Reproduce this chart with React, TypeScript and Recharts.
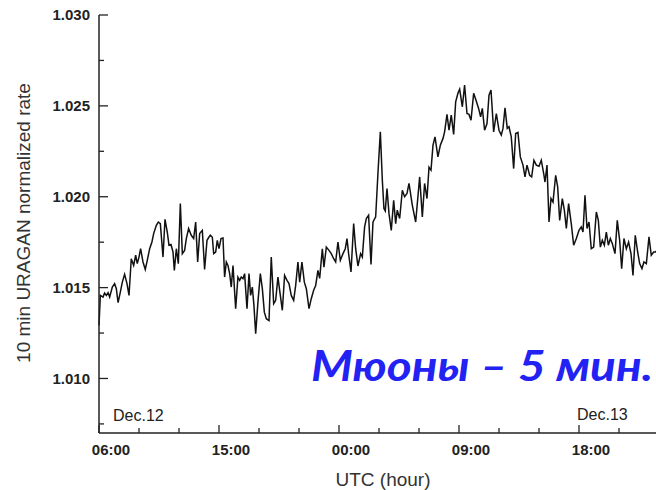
import React from 'react';
import { LineChart, Line, XAxis, YAxis } from 'recharts';

// hours counted from 00:00 Dec.12 (so 24 = 00:00 Dec.13)
const hours = [
  6.0, 6.1, 6.3, 6.42, 6.55, 6.68, 6.8, 7.0, 7.17, 7.3,
  7.43, 7.6, 7.75, 7.92, 8.1, 8.25, 8.42, 8.6, 8.75, 8.87,
  9.0, 9.12, 9.3, 9.47, 9.62, 9.8, 9.97, 10.1, 10.3, 10.45,
  10.6, 10.8, 10.95, 11.12, 11.25, 11.4, 11.55, 11.65, 11.8, 11.95,
  12.1, 12.25, 12.42, 12.55, 12.72, 12.92, 13.1, 13.25, 13.4, 13.55,
  13.75, 13.92, 14.1, 14.24, 14.35, 14.5, 14.6, 14.75, 14.87, 15.0,
  15.15, 15.3, 15.42, 15.55, 15.67, 15.8, 15.92, 16.05, 16.25, 16.42,
  16.55, 16.67, 16.8, 16.92, 17.1, 17.25, 17.37, 17.5, 17.62, 17.75,
  17.92, 18.1, 18.25, 18.4, 18.55, 18.75, 18.92, 19.1, 19.25, 19.42,
  19.6, 19.75, 19.92, 20.1, 20.25, 20.42, 20.6, 20.75, 20.92, 21.05,
  21.22, 21.4, 21.55, 21.75, 21.92, 22.1, 22.25, 22.42, 22.55, 22.75,
  22.87, 23.05, 23.25, 23.42, 23.6, 23.75, 23.92, 24.1, 24.3, 24.47,
  24.6, 24.72, 24.9, 25.1, 25.25, 25.42, 25.62, 25.75, 25.92, 26.05,
  26.22, 26.4, 26.55, 26.75, 26.92, 27.1, 27.25, 27.37, 27.47, 27.6,
  27.75, 27.92, 28.1, 28.25, 28.37, 28.55, 28.75, 28.92, 29.1, 29.25,
  29.5, 29.75, 30.05, 30.25, 30.42, 30.6, 30.75, 30.9, 31.05, 31.2,
  31.42, 31.6, 31.8, 31.92, 32.1, 32.25, 32.42, 32.6, 32.75, 32.92,
  33.05, 33.25, 33.42, 33.6, 33.75, 33.9, 34.1, 34.27, 34.47, 34.62,
  34.75, 34.92, 35.1, 35.25, 35.4, 35.6, 35.8, 36.0, 36.17, 36.3,
  36.45, 36.62, 36.75, 36.92, 37.1, 37.25, 37.42, 37.6, 37.8, 37.95,
  38.1, 38.3, 38.45, 38.62, 38.8, 39.0, 39.17, 39.35, 39.45, 39.6,
  39.75, 39.9, 40.05, 40.25, 40.4, 40.55, 40.75, 40.9, 41.05, 41.22,
  41.42, 41.6, 41.8, 42.0, 42.17, 42.3, 42.45, 42.6, 42.75, 42.92,
  43.1, 43.3, 43.45, 43.6, 43.75, 43.9, 44.05, 44.2, 44.35, 44.5,
  44.7, 44.87, 45.05, 45.2, 45.37, 45.55, 45.72, 45.9, 46.05, 46.22,
  46.4, 46.55, 46.72, 46.87, 47.05, 47.25, 47.42, 47.6, 47.75, 47.91,
];

const rates = [
  1.01292, 1.01457, 1.01448, 1.0147, 1.01457, 1.01472, 1.01448, 1.01503, 1.01522, 1.01494,
  1.01417, 1.01475, 1.0153, 1.01573, 1.01522, 1.01457, 1.01659, 1.01622, 1.01678, 1.01632,
  1.01668, 1.01714, 1.01641, 1.016, 1.0165, 1.01714, 1.01751, 1.01797, 1.01843, 1.01861,
  1.01852, 1.01668, 1.01876, 1.01806, 1.01733, 1.01737, 1.01696, 1.01595, 1.01714, 1.01632,
  1.01962, 1.01687, 1.01705, 1.0177, 1.01825, 1.01788, 1.0177, 1.01861, 1.01641, 1.01797,
  1.01815, 1.016, 1.0176, 1.01777, 1.01788, 1.01777, 1.01687, 1.01696, 1.0176, 1.01714,
  1.0177, 1.01773, 1.01558, 1.01641, 1.01622, 1.01577, 1.01503, 1.01622, 1.01384, 1.01558,
  1.0154, 1.01558, 1.01549, 1.01577, 1.01384, 1.01577, 1.01457, 1.01503, 1.01402, 1.01246,
  1.0142, 1.01577, 1.01494, 1.01365, 1.01329, 1.01319, 1.01668, 1.01411, 1.0143, 1.01558,
  1.01457, 1.01375, 1.01567, 1.0154, 1.01522, 1.01457, 1.0143, 1.01512, 1.01641, 1.0153,
  1.01641, 1.0153, 1.01494, 1.01384, 1.01439, 1.01485, 1.01512, 1.01595, 1.01551, 1.01714,
  1.01613, 1.01723, 1.01705, 1.01687, 1.01659, 1.01641, 1.01751, 1.0165, 1.01687, 1.01714,
  1.0177, 1.01687, 1.01586, 1.01852, 1.01714, 1.01619, 1.01687, 1.01668, 1.01834, 1.0188,
  1.01898, 1.01628, 1.01861, 1.01889, 1.02128, 1.02357, 1.02091, 1.01935, 1.01922, 1.02045,
  1.01907, 1.01815, 1.01981, 1.01852, 1.01926, 1.0188, 1.02036, 1.02, 1.02018, 1.02073,
  1.01953, 1.01861, 1.02109, 1.01889, 1.02073, 1.0199, 1.02162, 1.02146, 1.02284, 1.02329,
  1.02219, 1.02284, 1.02321, 1.02357, 1.02453, 1.02366, 1.02449, 1.02343, 1.02522, 1.02569,
  1.02592, 1.02495, 1.02614, 1.02458, 1.02453, 1.02421, 1.02569, 1.02532, 1.02486, 1.0244,
  1.02486, 1.02366, 1.02403, 1.02559, 1.02587, 1.02357, 1.02458, 1.02366, 1.02339, 1.02376,
  1.02489, 1.02376, 1.02385, 1.02329, 1.02155, 1.02348, 1.02354, 1.02219, 1.02174, 1.02109,
  1.02174, 1.02118, 1.02109, 1.02201, 1.02174, 1.02168, 1.02201, 1.02128, 1.02081, 1.02174,
  1.01861, 1.0199, 1.01971, 1.02118, 1.02054, 1.0187, 1.0199, 1.01926, 1.01825, 1.01962,
  1.01852, 1.01733, 1.0177, 1.01815, 1.01834, 1.01806, 1.02008, 1.01825, 1.01861, 1.01714,
  1.01723, 1.01916, 1.0187, 1.01723, 1.0176, 1.01733, 1.01806, 1.01733, 1.0177, 1.01742,
  1.01687, 1.0187, 1.0176, 1.01604, 1.0177, 1.01714, 1.01751, 1.01687, 1.01567, 1.01788,
  1.01696, 1.01632, 1.01604, 1.01641, 1.01632, 1.01779, 1.01678, 1.01696, 1.01696, 1.01711,
];

const hourTicks = [6, 9, 12, 15, 18, 21, 24, 27, 30, 33, 36, 39, 42, 45, 48];
const hourLabels: Record<number, string> = {
  6: '06:00',
  15: '15:00',
  24: '00:00',
  33: '09:00',
  42: '18:00',
};
const rateTicks = [
  1.0075, 1.01, 1.0125, 1.015, 1.0175, 1.02, 1.0225, 1.025, 1.0275, 1.03,
];
const dayLabels = ['Dec.12', 'Dec.13'];
const yTitle = '10 min URAGAN normalized rate';
const xTitle = 'UTC (hour)';
const banner = 'Мюоны – 5 мин.';

const data = hours.map((hour, i) => ({ hour, rate: rates[i] }));

const INK = '#222';
const TICK_FONT = '"Liberation Sans", Arial, sans-serif';

const isMajorHour = (v: number) => (v - 6) % 9 === 0;
const isMajorRate = (v: number) => Math.abs(v * 200 - Math.round(v * 200)) < 1e-6;

// ticks point into the plot on every side
const BottomTick = ({ x, y, payload }: any) => {
  const major = isMajorHour(payload.value);
  return (
    <g>
      <line x1={x} x2={x} y1={y} y2={y - (major ? 8 : 5)} stroke={INK} strokeWidth={1.3} />
      {major && (
        <text
          x={x + 12}
          y={y + 22}
          textAnchor="middle"
          fontFamily={TICK_FONT}
          fontWeight="bold"
          fontSize={15}
          fill={INK}
        >
          {hourLabels[payload.value]}
        </text>
      )}
    </g>
  );
};

const TopTick = ({ x, y, payload }: any) => {
  const major = isMajorHour(payload.value);
  return <line x1={x} x2={x} y1={y} y2={y + (major ? 8 : 5)} stroke={INK} strokeWidth={1.3} />;
};

const LeftTick = ({ x, y, payload }: any) => {
  const major = isMajorRate(payload.value);
  return (
    <g>
      <line x1={x} x2={x + (major ? 9 : 5)} y1={y} y2={y} stroke={INK} strokeWidth={1.3} />
      {major && (
        <text
          x={x - 9}
          y={y + 5.4}
          textAnchor="end"
          fontFamily={TICK_FONT}
          fontWeight="bold"
          fontSize={15}
          fill={INK}
        >
          {payload.value.toFixed(3)}
        </text>
      )}
    </g>
  );
};

const RightTick = ({ x, y, payload }: any) => {
  const major = isMajorRate(payload.value);
  return <line x1={x} x2={x - (major ? 9 : 5)} y1={y} y2={y} stroke={INK} strokeWidth={1.3} />;
};

const axisLine = { stroke: INK, strokeWidth: 1.5 };

export default function App() {
  return (
    <div
      style={{
        position: 'fixed',
        left: 0,
        top: 0,
        width: 656,
        height: 490,
        overflow: 'hidden',
        background: '#fff',
      }}
    >
      <LineChart
        width={680}
        height={490}
        data={data}
        margin={{ top: 15, right: 21, bottom: 0, left: 9 }}
      >
        <XAxis
          dataKey="hour"
          type="number"
          domain={[6, 48]}
          ticks={hourTicks}
          interval={0}
          height={57}
          tickSize={0}
          tickMargin={0}
          tickLine={false}
          axisLine={axisLine}
          tick={<BottomTick />}
        />
        <XAxis
          xAxisId="top"
          orientation="top"
          dataKey="hour"
          type="number"
          domain={[6, 48]}
          ticks={hourTicks}
          interval={0}
          height={0}
          tickSize={0}
          tickMargin={0}
          tickLine={false}
          axisLine={axisLine}
          tick={<TopTick />}
        />
        <YAxis
          type="number"
          domain={[1.007, 1.03]}
          ticks={rateTicks}
          interval={0}
          width={90}
          tickSize={0}
          tickMargin={0}
          tickLine={false}
          axisLine={axisLine}
          tick={<LeftTick />}
        />
        <YAxis
          yAxisId="right"
          orientation="right"
          type="number"
          domain={[1.007, 1.03]}
          ticks={rateTicks}
          interval={0}
          width={0}
          tickSize={0}
          tickMargin={0}
          tickLine={false}
          axisLine={axisLine}
          tick={<RightTick />}
        />
        <Line
          type="linear"
          dataKey="rate"
          stroke="#111"
          strokeWidth={1.5}
          dot={false}
          isAnimationActive={false}
        />
      </LineChart>

      <svg
        width={656}
        height={490}
        style={{ position: 'absolute', left: 0, top: 0, pointerEvents: 'none' }}
      >
        <text
          transform="translate(30,223) rotate(-90)"
          textAnchor="middle"
          fontFamily={TICK_FONT}
          fontSize={19}
          fill="#333"
        >
          {yTitle}
        </text>
        <text x={383} y={486} textAnchor="middle" fontFamily={TICK_FONT} fontSize={19} fill="#333">
          {xTitle}
        </text>
        <text x={113} y={421} fontFamily={TICK_FONT} fontSize={16} fill={INK}>
          {dayLabels[0]}
        </text>
        <text x={577} y={420} fontFamily={TICK_FONT} fontSize={16} fill={INK}>
          {dayLabels[1]}
        </text>
        <text
          x={311}
          y={381}
          fontFamily="Lato, 'Open Sans', sans-serif"
          fontWeight="bold"
          fontStyle="italic"
          fontSize={42}
          fill="#2222f2"
          textLength={342}
          lengthAdjust="spacingAndGlyphs"
        >
          {banner}
        </text>
      </svg>
    </div>
  );
}
